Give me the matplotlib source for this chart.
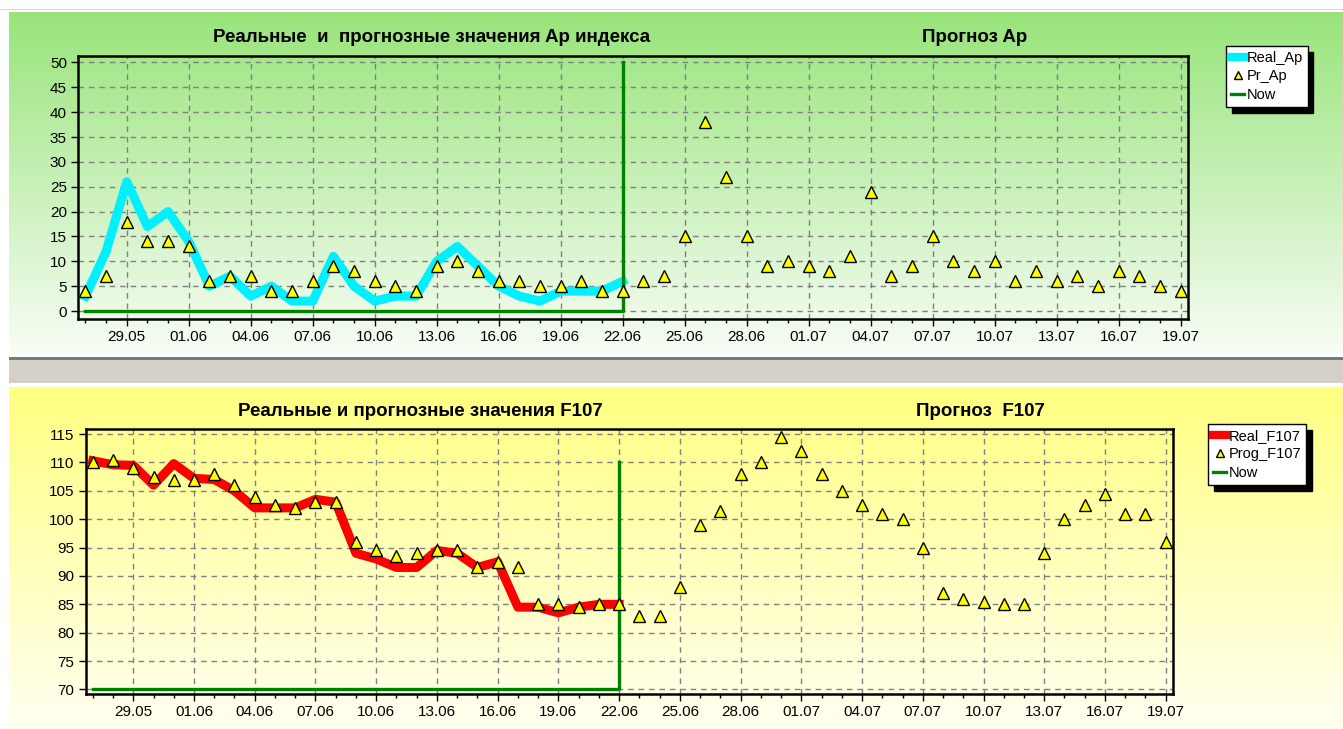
import numpy as np
import matplotlib
matplotlib.use('Agg')
import matplotlib.pyplot as plt
from matplotlib.lines import Line2D

plt.rcParams['font.family'] = ['Liberation Sans', 'DejaVu Sans']

# day index 0 = 27.05 ... 53 = 19.07
n_days = 54
now_idx = 26
tick_pos = [2, 5, 8, 11, 14, 17, 20, 23, 26, 29, 32, 35, 38, 41, 44, 47, 50, 53]
tick_labels = ['29.05', '01.06', '04.06', '07.06', '10.06', '13.06', '16.06', '19.06',
               '22.06', '25.06', '28.06', '01.07', '04.07', '07.07', '10.07', '13.07',
               '16.07', '19.07']

# Ap index
real_ap = [3, 12, 26, 17, 20, 14, 5, 7, 3, 5, 2, 2, 11, 5, 2, 3, 3, 10, 13, 9,
           5, 3, 2, 4, 4, 4, 6]
pr_ap = [4, 7, 18, 14, 14, 13, 6, 7, 7, 4, 4, 6, 9, 8, 6, 5, 4, 9, 10, 8,
         6, 6, 5, 5, 6, 4, 4,
         6, 7, 15, 38, 27, 15, 9, 10, 9, 8, 11, 24, 7, 9, 15, 10, 8, 10, 6,
         8, 6, 7, 5, 8, 7, 5, 4]
ap_now_level = [0, 50]

# F10.7 flux
real_f107 = [110.3, 109.6, 109.5, 106, 109.8, 107.2, 107, 105, 102, 102, 102, 103.5,
             103, 94, 93, 91.5, 91.5, 94.5, 94, 91.5, 92.5, 84.5, 84.5, 83.5, 84.5,
             85, 85]
prog_f107 = [110, 110.5, 109, 107.5, 107, 107, 108, 106, 104, 102.5, 102, 103, 103,
             96, 94.5, 93.5, 94, 94.5, 94.5, 91.5, 92.5, 91.5, 85, 85, 84.5, 85, 85,
             83, 83, 88, 99, 101.5, 108, 110, 114.5, 112, 108, 105, 102.5, 101, 100,
             95, 87, 86, 85.5, 85, 85, 94, 100, 102.5, 104.5, 101, 101, 96]
f107_now_level = [70, 110]

W, H = 1343, 729
fig = plt.figure(figsize=(W / 100, H / 100), dpi=100)

# background panels
img = np.ones((H, W, 3))
t = np.linspace(0, 1, 355 - 12)[:, None]
top_c = np.array([152, 228, 122]) / 255
bot_c = np.array([248, 253, 246]) / 255
img[12:355, 9:] = (top_c + (bot_c - top_c) * t)[:, None, :]
img[357:360, 9:] = np.array([120, 120, 120]) / 255
img[360:383, 9:] = np.array([212, 208, 200]) / 255
img[9:10, :] = np.array([215, 215, 215]) / 255
t2 = np.linspace(0, 1, H - 387)[:, None]
ytop = np.array([255, 255, 128]) / 255
ybot = np.array([255, 255, 242]) / 255
img[387:, 9:] = (ytop + (ybot - ytop) * t2)[:, None, :]
bg = fig.add_axes([0, 0, 1, 1], zorder=-10)
bg.imshow(img, aspect='auto', interpolation='nearest')
bg.axis('off')

x_all = np.arange(n_days)
x_real = np.arange(len(real_ap))


def style_axes(ax, yticks, ylim):
    ax.set_facecolor('none')
    ax.set_xlim(-0.36, 53.36)
    ax.set_ylim(*ylim)
    ax.set_yticks(yticks)
    ax.set_xticks(tick_pos)
    ax.set_xticklabels(tick_labels)
    ax.set_xticks(x_all, minor=True)
    ax.grid(True, which='major', color='#808080', linestyle=(0, (4, 3.5)), linewidth=1)
    ax.tick_params(axis='both', which='major', length=5, width=1, labelsize=11, pad=3)
    ax.tick_params(axis='x', which='minor', length=3, width=1)
    for s in ax.spines.values():
        s.set_linewidth(1.8)
        s.set_color('black')


def add_legend(ax, handles, labels, x, y):
    leg = ax.legend(handles, labels, loc='upper left', bbox_to_anchor=(x / W, 1 - y / H),
                    bbox_transform=fig.transFigure, fontsize=10.5, frameon=True,
                    fancybox=False, handlelength=0.9, handletextpad=0.15,
                    borderpad=0.35, labelspacing=0.3, borderaxespad=0,
                    shadow={'color': 'black', 'alpha': 1, 'ox': 4, 'oy': -4})
    leg.get_frame().set_edgecolor('black')
    leg.get_frame().set_linewidth(1)
    leg.get_frame().set_facecolor('white')
    leg.get_frame().set_alpha(1)


# top: Ap
ax1 = fig.add_axes([78 / W, 1 - 319 / H, 1110 / W, 263 / H])
style_axes(ax1, np.arange(0, 51, 5), (-1.6, 51.3))
ax1.plot(x_real, real_ap, color='#00F0FF', linewidth=6.5, solid_joinstyle='round', zorder=3)
ax1.plot([0, now_idx, now_idx], [ap_now_level[0], ap_now_level[0], ap_now_level[1]],
         color='#008000', linewidth=2.4, zorder=4)
ax1.plot(x_all, pr_ap, linestyle='none', marker='^', markersize=9,
         markerfacecolor='#FFFF00', markeredgecolor='black', markeredgewidth=1, zorder=5)
add_legend(ax1,
           [Line2D([], [], color='#00F0FF', linewidth=6),
            Line2D([], [], linestyle='none', marker='^', markersize=6,
                   markerfacecolor='#FFFF00', markeredgecolor='black'),
            Line2D([], [], color='#008000', linewidth=2.4)],
           ['Real_Ap', 'Pr_Ap', 'Now'], 1226, 46)
fig.text(432 / W, 1 - 38 / H, 'Реальные  и  прогнозные значения Ap индекса',
         ha='center', va='center', fontsize=13.5, fontweight='bold')
fig.text(975 / W, 1 - 38 / H, 'Прогноз Ap', ha='center', va='center',
         fontsize=13.5, fontweight='bold')

# bottom: F107
ax2 = fig.add_axes([85.5 / W, 1 - 694 / H, 1087.5 / W, 265 / H])
style_axes(ax2, np.arange(70, 116, 5), (69.2, 115.9))
ax2.plot(x_real, real_f107, color='#FF0000', linewidth=6.5, solid_joinstyle='round', zorder=3)
ax2.plot([0, now_idx, now_idx], [f107_now_level[0], f107_now_level[0], f107_now_level[1]],
         color='#008000', linewidth=2.4, zorder=4)
ax2.plot(x_all, prog_f107, linestyle='none', marker='^', markersize=9,
         markerfacecolor='#FFFF00', markeredgecolor='black', markeredgewidth=1, zorder=5)
add_legend(ax2,
           [Line2D([], [], color='#FF0000', linewidth=6),
            Line2D([], [], linestyle='none', marker='^', markersize=6,
                   markerfacecolor='#FFFF00', markeredgecolor='black'),
            Line2D([], [], color='#008000', linewidth=2.4)],
           ['Real_F107', 'Prog_F107', 'Now'], 1208, 424)
fig.text(420 / W, 1 - 411 / H, 'Реальные и прогнозные значения F107',
         ha='center', va='center', fontsize=13.5, fontweight='bold')
fig.text(980 / W, 1 - 411 / H, 'Прогноз  F107', ha='center', va='center',
         fontsize=13.5, fontweight='bold')

fig.savefig('out.png', dpi=100)
